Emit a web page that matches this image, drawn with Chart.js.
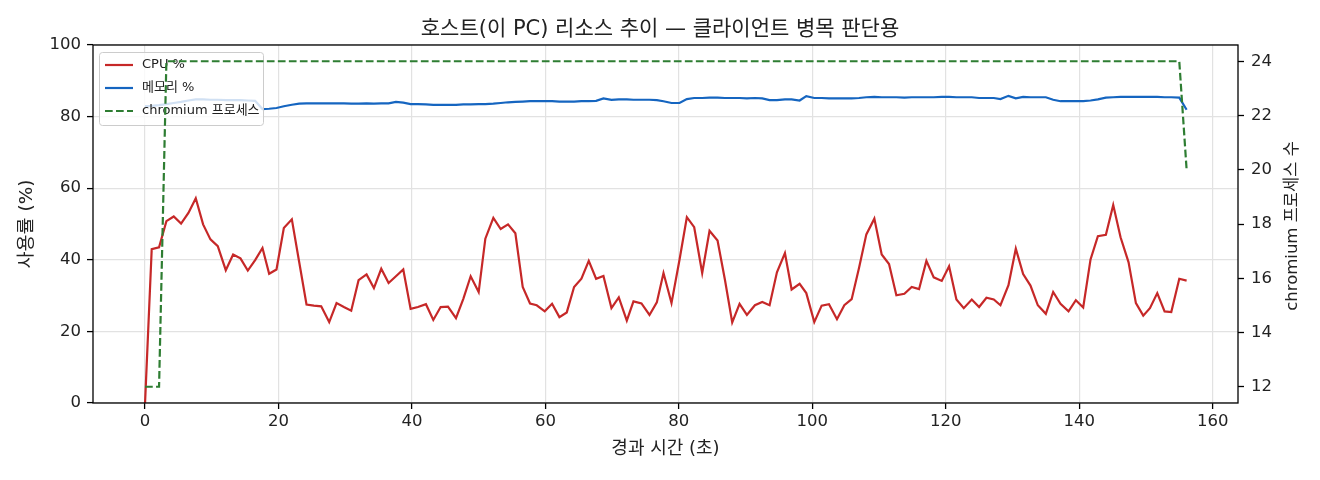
<!DOCTYPE html>
<html lang="ko">
<head>
<meta charset="utf-8">
<script src="https://cdn.jsdelivr.net/npm/chart.js@4.4.1/dist/chart.umd.min.js"></script>
<style>
  html, body { margin: 0; padding: 0; background: #fff; }
  #wrap { width: 1320px; height: 480px; }
</style>
</head>
<body>
<div id="wrap"><canvas id="chart" width="1320" height="480"></canvas></div>
<script>
// 경과 시간 (초)
const times = [
  0, 1.0, 2.1, 3.2, 4.3, 5.4, 6.5, 7.6, 8.7, 9.8,
  10.9, 12.1, 13.2, 14.3, 15.4, 16.5, 17.6, 18.6, 19.7, 20.8,
  22.0, 23.1, 24.2, 25.3, 26.4, 27.6, 28.7, 29.8, 30.9, 32.0,
  33.2, 34.3, 35.4, 36.5, 37.6, 38.7, 39.8, 40.9, 42.1, 43.2,
  44.3, 45.4, 46.6, 47.7, 48.8, 50.0, 51.0, 52.2, 53.3, 54.4,
  55.5, 56.6, 57.7, 58.7, 59.9, 61.0, 62.1, 63.2, 64.3, 65.4,
  66.5, 67.6, 68.7, 69.9, 71.0, 72.2, 73.2, 74.4, 75.6, 76.7,
  77.7, 78.9, 80.1, 81.2, 82.3, 83.5, 84.6, 85.8, 86.9, 88.0,
  89.1, 90.2, 91.4, 92.5, 93.6, 94.7, 95.9, 96.9, 98.1, 99.1,
  100.3, 101.4, 102.5, 103.7, 104.8, 105.9, 107.0, 108.1, 109.3, 110.4,
  111.5, 112.6, 113.8, 114.9, 116.0, 117.1, 118.2, 119.4, 120.5, 121.6,
  122.7, 123.9, 125.0, 126.1, 127.2, 128.2, 129.4, 130.5, 131.6, 132.7,
  133.8, 135.0, 136.1, 137.2, 138.4, 139.5, 140.6, 141.7, 142.8, 144.0,
  145.1, 146.2, 147.4, 148.5, 149.6, 150.6, 151.7, 152.8, 153.8, 155.0,
  156.1
];

const cpu = [
  0, 43.0, 43.5, 50.8, 52.1, 50.1, 53.1, 57.2, 49.9, 45.7,
  43.8, 37.1, 41.5, 40.4, 37.0, 39.9, 43.3, 36.1, 37.3, 48.9,
  51.3, 39.4, 27.5, 27.2, 27.0, 22.6, 27.9, 26.8, 25.8, 34.3,
  35.9, 32.1, 37.5, 33.5, 35.4, 37.3, 26.3, 26.8, 27.6, 23.2,
  26.8, 26.9, 23.7, 29.1, 35.4, 31.0, 45.9, 51.7, 48.6, 49.9,
  47.4, 32.4, 27.8, 27.3, 25.6, 27.7, 24.0, 25.3, 32.4, 34.7,
  39.7, 34.7, 35.5, 26.5, 29.5, 23.0, 28.4, 27.8, 24.6, 28.1,
  36.3, 27.9, 40.0, 51.9, 49.1, 36.3, 48.1, 45.4, 34.5, 22.5,
  27.7, 24.6, 27.3, 28.2, 27.3, 36.5, 41.9, 31.7, 33.3, 30.7,
  22.6, 27.2, 27.6, 23.4, 27.3, 29.0, 37.7, 47.1, 51.5, 41.5,
  38.8, 30.1, 30.5, 32.4, 31.8, 39.7, 35.1, 34.1, 38.2, 28.9,
  26.5, 28.9, 26.8, 29.4, 28.9, 27.3, 32.9, 43.1, 36.0, 32.8,
  27.3, 24.9, 31.0, 27.7, 25.6, 28.7, 26.7, 40.1, 46.6, 47.0,
  55.3, 46.3, 39.3, 27.9, 24.4, 26.5, 30.7, 25.6, 25.4, 34.7,
  34.2
];

const mem = [
  82.9, 83.0, 83.2, 83.5, 83.8, 84.1, 84.5, 84.8, 84.8, 84.7,
  84.7, 84.6, 84.6, 84.6, 84.5, 84.4, 82.1, 82.2, 82.4, 82.9,
  83.3, 83.6, 83.7, 83.7, 83.7, 83.7, 83.7, 83.7, 83.6, 83.6,
  83.7, 83.6, 83.7, 83.7, 84.1, 83.9, 83.5, 83.5, 83.4, 83.3,
  83.3, 83.3, 83.3, 83.4, 83.4, 83.5, 83.5, 83.6, 83.8, 84.0,
  84.1, 84.2, 84.3, 84.3, 84.3, 84.3, 84.2, 84.2, 84.2, 84.3,
  84.3, 84.4, 85.1, 84.7, 84.8, 84.8, 84.7, 84.7, 84.7, 84.6,
  84.3, 83.8, 83.8, 84.9, 85.2, 85.2, 85.3, 85.3, 85.2, 85.2,
  85.2, 85.1, 85.2, 85.1, 84.6, 84.6, 84.8, 84.8, 84.5, 85.7,
  85.2, 85.2, 85.1, 85.1, 85.1, 85.1, 85.2, 85.4, 85.5, 85.4,
  85.4, 85.4, 85.3, 85.4, 85.4, 85.4, 85.4, 85.5, 85.5, 85.4,
  85.4, 85.4, 85.2, 85.2, 85.2, 84.9, 85.8, 85.1, 85.5, 85.4,
  85.4, 85.4, 84.7, 84.3, 84.3, 84.3, 84.3, 84.5, 84.8, 85.3,
  85.4, 85.5, 85.5, 85.5, 85.5, 85.5, 85.5, 85.4, 85.4, 85.3,
  81.9
];

const procs = [
  12, 12, 12, 24, 24, 24, 24, 24, 24, 24,
  24, 24, 24, 24, 24, 24, 24, 24, 24, 24,
  24, 24, 24, 24, 24, 24, 24, 24, 24, 24,
  24, 24, 24, 24, 24, 24, 24, 24, 24, 24,
  24, 24, 24, 24, 24, 24, 24, 24, 24, 24,
  24, 24, 24, 24, 24, 24, 24, 24, 24, 24,
  24, 24, 24, 24, 24, 24, 24, 24, 24, 24,
  24, 24, 24, 24, 24, 24, 24, 24, 24, 24,
  24, 24, 24, 24, 24, 24, 24, 24, 24, 24,
  24, 24, 24, 24, 24, 24, 24, 24, 24, 24,
  24, 24, 24, 24, 24, 24, 24, 24, 24, 24,
  24, 24, 24, 24, 24, 24, 24, 24, 24, 24,
  24, 24, 24, 24, 24, 24, 24, 24, 24, 24,
  24, 24, 24, 24, 24, 24, 24, 24, 24, 24,
  20
];

const xTicks = [0, 20, 40, 60, 80, 100, 120, 140, 160];
const yTicks = [0, 20, 40, 60, 80, 100];
const y2Ticks = [12, 14, 16, 18, 20, 22, 24];

const seriesNames = ["CPU %", "메모리 %", "chromium 프로세스"];
const seriesColors = ["#c62828", "#1565c0", "#2e7d32"];

const FONT = '"DejaVu Sans", "Noto Sans CJK KR", sans-serif';
const TXT = "#222222";
const GRID = "#e2e2e2";
const DASH = [7.7, 3.3];

const toPoints = (ys) => times.map((t, i) => ({ x: t, y: ys[i] }));

// 범례: 메모리 선 다음, 프로세스 선 이전에 그림 (twinx 순서 흉내)
const legendBox = {
  id: "legendBox",
  afterDatasetDraw(chart, args) {
    if (args.index !== 1) return;
    const ctx = chart.ctx;
    const a = chart.chartArea;
    const x = a.left + 6, y = a.top + 7, w = 164, h = 73;
    ctx.save();
    ctx.fillStyle = "rgba(255,255,255,0.8)";
    ctx.strokeStyle = "#cccccc";
    ctx.lineWidth = 1;
    ctx.beginPath();
    ctx.roundRect(x + 0.5, y + 0.5, w, h, 3);
    ctx.fill();
    ctx.stroke();
    ctx.font = "13px " + FONT;
    ctx.textBaseline = "middle";
    seriesNames.forEach((name, i) => {
      const ly = y + 13 + i * 23;
      ctx.strokeStyle = seriesColors[i];
      ctx.lineWidth = 2.2;
      ctx.setLineDash(i === 2 ? DASH : []);
      ctx.beginPath();
      ctx.moveTo(x + 6, ly);
      ctx.lineTo(x + 34, ly);
      ctx.stroke();
      ctx.setLineDash([]);
      ctx.fillStyle = TXT;
      ctx.fillText(name, x + 43, ly);
    });
    ctx.restore();
  },
  afterDraw(chart) {
    const ctx = chart.ctx;
    const a = chart.chartArea;
    ctx.save();
    ctx.strokeStyle = "#000";
    ctx.lineWidth = 1.3;
    ctx.strokeRect(a.left, a.top, a.right - a.left, a.bottom - a.top);
    // 오른쪽 축 제목 (아래에서 위로)
    ctx.translate(a.right + 54.5, (a.top + a.bottom) / 2 + 2);
    ctx.rotate(-Math.PI / 2);
    ctx.fillStyle = TXT;
    ctx.font = "16.5px " + FONT;
    ctx.textAlign = "center";
    ctx.textBaseline = "middle";
    ctx.fillText("chromium 프로세스 수", 0, 0);
    ctx.restore();
  }
};

new Chart(document.getElementById("chart"), {
  type: "line",
  data: {
    datasets: [
      {
        label: seriesNames[0],
        data: toPoints(cpu),
        borderColor: seriesColors[0],
        borderWidth: 2.2,
        pointRadius: 0,
        tension: 0,
        yAxisID: "y",
        order: 3,
      },
      {
        label: seriesNames[1],
        data: toPoints(mem),
        borderColor: seriesColors[1],
        borderWidth: 2.2,
        pointRadius: 0,
        tension: 0,
        yAxisID: "y",
        order: 2,
      },
      {
        label: seriesNames[2],
        data: toPoints(procs),
        borderColor: seriesColors[2],
        borderWidth: 2.2,
        borderDash: DASH,
        pointRadius: 0,
        tension: 0,
        yAxisID: "y2",
        order: 1,
      },
    ],
  },
  options: {
    responsive: false,
    animation: false,
    devicePixelRatio: 1,
    layout: { padding: 0 },
    plugins: {
      legend: { display: false },
      tooltip: { enabled: false },
      title: {
        display: true,
        text: "호스트(이 PC) 리소스 추이 — 클라이언트 병목 판단용",
        color: TXT,
        font: { family: FONT, size: 21, weight: "normal" },
        padding: { top: 16.5, bottom: 3.3 },
      },
    },
    scales: {
      x: {
        type: "linear",
        min: -7.8,
        max: 163.8,
        afterBuildTicks: (s) => { s.ticks = xTicks.map((v) => ({ value: v })); },
        afterFit: (s) => { s.height = 77; },
        border: { display: false },
        grid: { color: GRID, lineWidth: 1.2, tickColor: "#000", tickLength: 6, tickWidth: 1.3 },
        ticks: { color: TXT, font: { family: FONT, size: 16.5 }, padding: 3, maxRotation: 0 },
        title: {
          display: true,
          text: "경과 시간 (초)",
          color: TXT,
          font: { family: FONT, size: 18 },
          padding: { top: 4, bottom: 19.5 },
        },
      },
      y: {
        position: "left",
        min: 0,
        max: 100,
        afterBuildTicks: (s) => { s.ticks = yTicks.map((v) => ({ value: v })); },
        afterFit: (s) => { s.width = 93; },
        border: { display: false },
        grid: { color: GRID, lineWidth: 1.2, tickColor: "#000", tickLength: 6, tickWidth: 1.3 },
        ticks: { color: TXT, font: { family: FONT, size: 16.5 }, padding: 6 },
        title: {
          display: true,
          text: "사용률 (%)",
          color: TXT,
          font: { family: FONT, size: 18.5 },
          padding: { top: 16.5, bottom: 4 },
        },
      },
      y2: {
        position: "right",
        min: 11.4,
        max: 24.6,
        afterBuildTicks: (s) => { s.ticks = y2Ticks.map((v) => ({ value: v })); },
        afterFit: (s) => { s.width = 82; },
        border: { display: false },
        grid: { drawOnChartArea: false, tickColor: "#000", tickLength: 6, tickWidth: 1.3 },
        ticks: { color: TXT, font: { family: FONT, size: 16.5 }, padding: 7 },
      },
    },
  },
  plugins: [legendBox],
});
</script>
</body>
</html>
